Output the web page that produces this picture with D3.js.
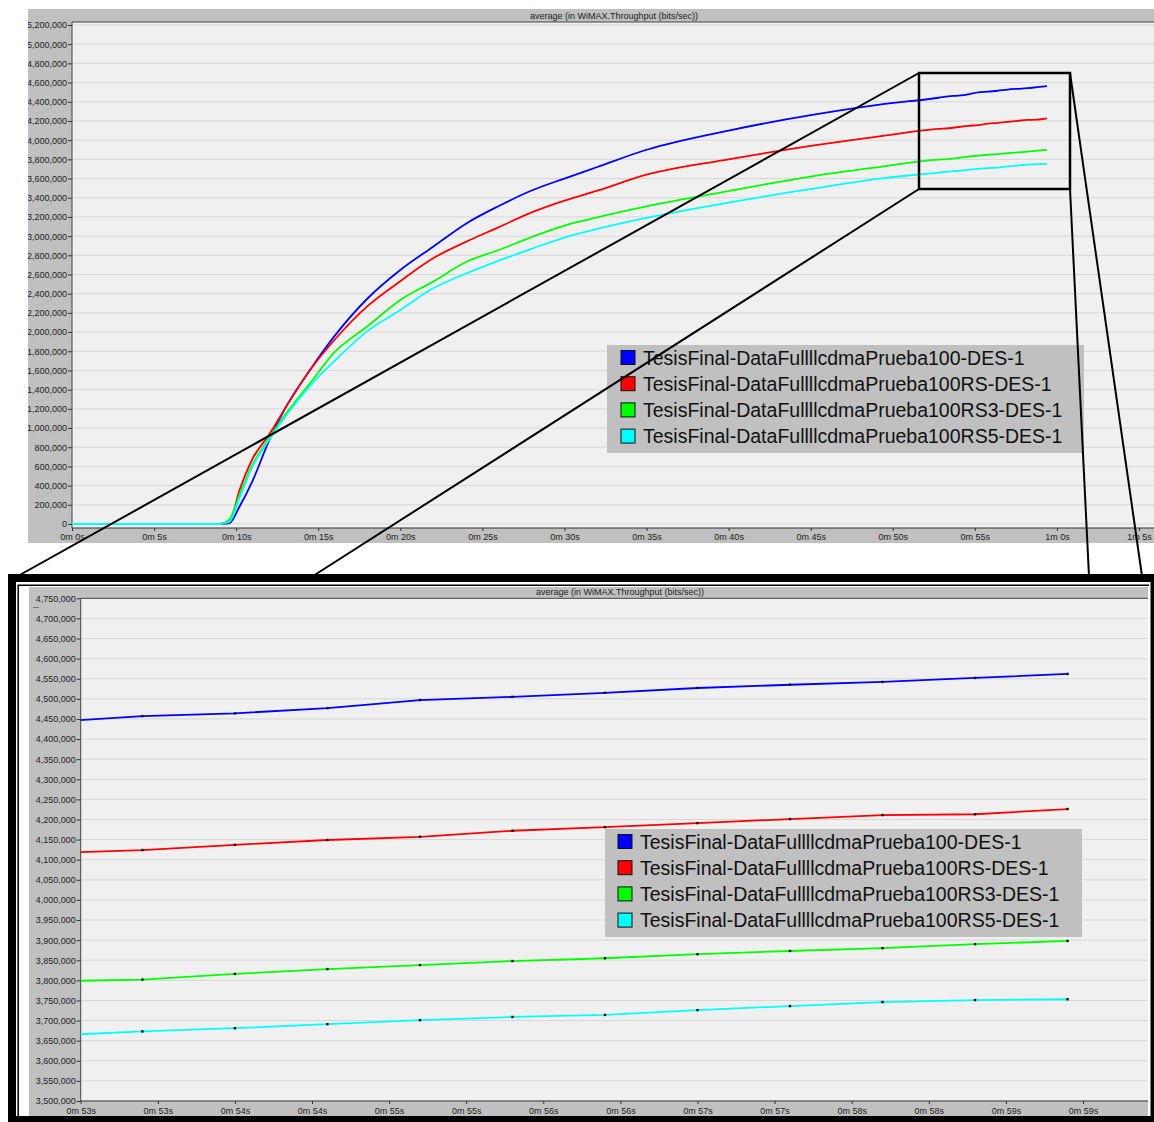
<!DOCTYPE html>
<html>
<head>
<meta charset="utf-8">
<script src="https://cdn.jsdelivr.net/npm/d3@7"></script>
<style>
  body { margin: 0; background: #fff; }
  svg { display: block; }
  text { font-family: "Liberation Sans", Arial, sans-serif; }
</style>
</head>
<body>
<svg id="chart" width="1154" height="1122"></svg>
<script>
const seriesNames = [
  'TesisFinal-DataFullllcdmaPrueba100-DES-1',
  'TesisFinal-DataFullllcdmaPrueba100RS-DES-1',
  'TesisFinal-DataFullllcdmaPrueba100RS3-DES-1',
  'TesisFinal-DataFullllcdmaPrueba100RS5-DES-1'
];

// seconds
const times = [0, 9.0, 9.6, 10.2, 11.0, 12.0, 13.0, 14.5, 16.0, 18.0, 20.0, 22.0, 24.0, 26.0, 28.0, 30.0,
  32.0, 35.0, 40.0, 45.0, 49.2, 52.8, 53.4, 54.0, 54.6, 55.2, 55.8, 56.4, 57.0, 57.6, 58.2, 58.8, 59.4];

// bits/sec
const prueba100 = [0, 0, 10000, 180000, 450000, 865000, 1210000, 1605000, 1960000, 2350000, 2647000,
  2890000, 3130000, 3314000, 3475000, 3600000, 3720000, 3900000, 4100000, 4260000, 4370000, 4442000,
  4457000, 4464000, 4477000, 4497000, 4505000, 4515000, 4527000, 4535000, 4542000, 4552000, 4562000];
const prueba100RS = [0, 0, 30000, 350000, 680000, 930000, 1210000, 1605000, 1920000, 2270000, 2530000,
  2769000, 2940000, 3093000, 3247000, 3370000, 3473000, 3640000, 3800000, 3940000, 4040000, 4116500,
  4124000, 4137000, 4149000, 4157000, 4172000, 4181000, 4191000, 4201000, 4211000, 4213000, 4226000];
const prueba100RS3 = [0, 0, 50000, 300000, 620000, 890000, 1140000, 1466000, 1790000, 2060000, 2335000,
  2526000, 2730000, 2855000, 2990000, 3110000, 3196000, 3310000, 3470000, 3620000, 3720000, 3797500,
  3802000, 3816000, 3828000, 3838000, 3848000, 3855000, 3865000, 3873000, 3880000, 3890000, 3898000];
const prueba100RS5 = [0, 0, 25000, 270000, 600000, 875000, 1120000, 1440000, 1700000, 2010000, 2230000,
  2456000, 2610000, 2745000, 2868000, 2985000, 3075000, 3190000, 3350000, 3490000, 3600000, 3662500,
  3673000, 3681000, 3691000, 3701000, 3709000, 3714000, 3726000, 3736000, 3746000, 3751000, 3753000];

const zoomStart = 52.8;
const chartTitle = 'average (in WiMAX.Throughput (bits/sec))';

const series = [prueba100, prueba100RS, prueba100RS3, prueba100RS5].map((vals, i) => ({
  name: seriesNames[i],
  values: vals.map((v, j) => ({ t: times[j], v }))
}));

const color = d3.scaleOrdinal().domain(seriesNames).range(['#0000ff', '#ff0000', '#00ff00', '#00ffff']);

const svg = d3.select('#chart');
svg.append('rect').attr('width', 1154).attr('height', 1122).attr('fill', '#fff');

const defs = svg.append('defs');
const clip = (id, x, y, w, h) => defs.append('clipPath').attr('id', id)
  .append('rect').attr('x', x).attr('y', y).attr('width', w).attr('height', h);

const styleAxis = g => {
  g.select('.domain').remove();
  g.selectAll('.tick line').attr('stroke', '#333');
  g.selectAll('.tick text').attr('fill', '#222').attr('font-size', 9)
    .attr('font-family', '"Liberation Sans", Arial, sans-serif');
};

const drawLegend = (g, x, y, sq, tx) => {
  g.append('rect').attr('x', x).attr('y', y).attr('width', 477).attr('height', 108).attr('fill', '#c0c0c0');
  const row = g.selectAll('.lg').data(seriesNames).enter().append('g')
    .attr('transform', (d, i) => `translate(${x},${y + 12.5 + i * 26.2})`);
  row.append('rect').attr('x', sq).attr('y', -7).attr('width', 14).attr('height', 14)
    .attr('fill', d => color(d)).attr('stroke', '#111').attr('stroke-width', 1);
  row.append('text').attr('x', tx).attr('dy', '0.36em').attr('font-size', 19.5)
    .attr('fill', '#111').text(d => d);
};

// ---------- main chart ----------
clip('topPanel', 28, 9, 1126, 534);
clip('topPlot', 72, 22, 1082, 506);

const mainPanel = svg.append('g').attr('clip-path', 'url(#topPanel)');
mainPanel.append('rect').attr('x', 28).attr('y', 9).attr('width', 1126).attr('height', 534).attr('fill', '#c0c0c0');
mainPanel.append('rect').attr('x', 72).attr('y', 22).attr('width', 1082).attr('height', 506).attr('fill', '#f0f0f0');

const x = d3.scaleLinear().domain([0, 65]).range([72, 1139]);
const y = d3.scaleLinear().domain([0, 5200000]).range([524, 25]);
const yTicks = d3.range(0, 5200001, 200000);
const xTicks = d3.range(0, 66, 5);

mainPanel.append('g').selectAll('line').data(yTicks).enter().append('line')
  .attr('x1', 72).attr('x2', 1154).attr('y1', d => y(d)).attr('y2', d => y(d))
  .attr('stroke', '#d6d6d6');

mainPanel.append('g').attr('transform', 'translate(72,0)')
  .call(d3.axisLeft(y).tickValues(yTicks).tickSize(4).tickPadding(1).tickFormat(d3.format(',')))
  .call(styleAxis);
mainPanel.append('g').attr('transform', 'translate(0,528)')
  .call(d3.axisBottom(x).tickValues(xTicks).tickSize(3).tickPadding(3)
    .tickFormat(t => `${Math.floor(t / 60)}m ${t % 60}s`))
  .call(styleAxis);

mainPanel.append('path').attr('d', 'M72,528V22H1154').attr('fill', 'none').attr('stroke', '#444');
mainPanel.append('line').attr('x1', 72).attr('x2', 1154).attr('y1', 528).attr('y2', 528).attr('stroke', '#333');

mainPanel.append('text').attr('x', 614).attr('y', 16).attr('dy', '0.35em').attr('text-anchor', 'middle')
  .attr('font-size', 9).attr('fill', '#222').text(chartTitle);

const line = d3.line().x(d => x(d.t)).y(d => y(d.v)).curve(d3.curveMonotoneX);
mainPanel.append('g').attr('clip-path', 'url(#topPlot)')
  .selectAll('path').data(series).enter().append('path')
  .attr('d', d => line(d.values)).attr('fill', 'none')
  .attr('stroke', d => color(d.name)).attr('stroke-width', 1.8);

drawLegend(mainPanel.append('g'), 607, 345, 14, 36);

// zoom box and connectors
svg.append('rect').attr('x', 919).attr('y', 73).attr('width', 151).attr('height', 116)
  .attr('fill', 'none').attr('stroke', '#000').attr('stroke-width', 2.5);
const connectors = [[919, 73, 18, 576], [919, 189, 313, 576], [1070, 73, 1142, 576], [1070, 189, 1089, 576]];
svg.append('g').selectAll('line').data(connectors).enter().append('line')
  .attr('x1', d => d[0]).attr('y1', d => d[1]).attr('x2', d => d[2]).attr('y2', d => d[3])
  .attr('stroke', '#000').attr('stroke-width', 2);

// ---------- zoomed chart ----------
const zp = svg.append('g');
zp.append('rect').attr('x', 8).attr('y', 574).attr('width', 1146).attr('height', 548).attr('fill', '#000');
zp.append('rect').attr('x', 16).attr('y', 582).attr('width', 1134.5).attr('height', 534).attr('fill', '#fff');
zp.append('path').attr('d', 'M18.2,1116V585.2H1149').attr('fill', 'none').attr('stroke', '#000').attr('stroke-width', 1.5);
zp.append('rect').attr('x', 29).attr('y', 587).attr('width', 1119).attr('height', 529).attr('fill', '#c0c0c0');

clip('zoomPlot', 80.7, 598.3, 1067.3, 502.7);
const zx = d3.scaleLinear().domain([53, 59.5]).range([80.7, 1083]);
const zy = d3.scaleLinear().domain([3500000, 4750000]).range([1101, 598.3]);
const zyTicks = d3.range(3500000, 4750001, 50000);
const zxTicks = d3.range(53, 59.51, 0.5);

zp.append('rect').attr('x', 80.7).attr('y', 598.3).attr('width', 1067.3).attr('height', 502.7).attr('fill', '#f0f0f0');
zp.append('g').selectAll('line').data(zyTicks).enter().append('line')
  .attr('x1', 80.7).attr('x2', 1148).attr('y1', d => zy(d)).attr('y2', d => zy(d))
  .attr('stroke', '#d6d6d6');

zp.append('g').attr('transform', 'translate(80.7,0)')
  .call(d3.axisLeft(zy).tickValues(zyTicks).tickSize(4).tickPadding(1).tickFormat(d3.format(',')))
  .call(styleAxis);
zp.append('g').attr('transform', 'translate(0,1101)')
  .call(d3.axisBottom(zx).tickValues(zxTicks).tickSize(3).tickPadding(4)
    .tickFormat(t => `${Math.floor(t / 60)}m ${Math.floor(t % 60)}s`))
  .call(styleAxis);

zp.append('path').attr('d', 'M80.7,1101V598.3H1148').attr('fill', 'none').attr('stroke', '#444');
zp.append('line').attr('x1', 80.7).attr('x2', 1148).attr('y1', 1101).attr('y2', 1101).attr('stroke', '#333');
zp.append('text').attr('x', 33).attr('y', 608).attr('font-size', 7).attr('font-weight', 'bold')
  .attr('fill', '#333').text('...');

zp.append('text').attr('x', 620).attr('y', 591.5).attr('dy', '0.35em').attr('text-anchor', 'middle')
  .attr('font-size', 9).attr('fill', '#222').text(chartTitle);

const zoomSeries = series.map(s => ({ name: s.name, values: s.values.filter(d => d.t >= zoomStart) }));
const zline = d3.line().x(d => zx(d.t)).y(d => zy(d.v));
const zplot = zp.append('g').attr('clip-path', 'url(#zoomPlot)');
zplot.selectAll('path').data(zoomSeries).enter().append('path')
  .attr('d', d => zline(d.values)).attr('fill', 'none')
  .attr('stroke', d => color(d.name)).attr('stroke-width', 1.8);
zplot.selectAll('g.marks').data(zoomSeries).enter().append('g').attr('class', 'marks')
  .selectAll('rect').data(d => d.values).enter().append('rect')
  .attr('x', d => zx(d.t) - 1.2).attr('y', d => zy(d.v) - 1.2)
  .attr('width', 2.4).attr('height', 2.4).attr('fill', '#111');

drawLegend(zp.append('g'), 605, 829, 13, 35);
</script>
</body>
</html>
